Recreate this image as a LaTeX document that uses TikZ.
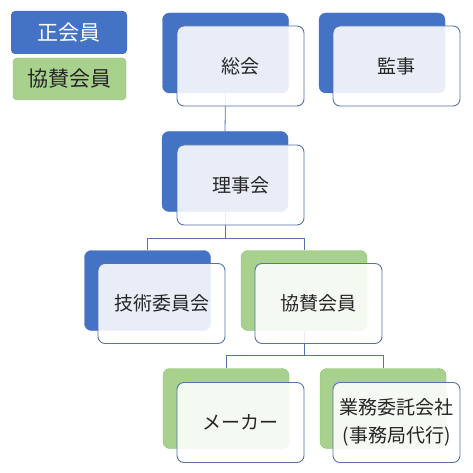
\documentclass[tikz,border=0pt]{standalone}
\usepackage{fontspec}
\setmainfont{Noto Sans CJK JP}
\usepackage{tikz}
\usetikzlibrary{backgrounds}
\definecolor{kaiblue}{HTML}{4472C4}
\definecolor{kaigreen}{HTML}{A9D18E}
\definecolor{kaigreenline}{HTML}{8DBF6C}
\definecolor{edgeblue}{HTML}{5574AC}
\definecolor{inktext}{HTML}{262626}
\tikzset{
  backblue/.style={fill=kaiblue,draw=kaiblue,rounded corners=7pt,minimum width=126pt,minimum height=80pt,inner sep=0pt},
  backgreen/.style={fill=kaigreen,draw=kaigreenline,rounded corners=7pt,minimum width=126pt,minimum height=80pt,inner sep=0pt},
  frontcard/.style={fill=white,fill opacity=.88,text opacity=1,draw=edgeblue,line width=.9pt,rounded corners=7pt,
    minimum width=127pt,minimum height=80pt,inner sep=0pt,text=inktext,align=center,font=\fontsize{19}{28}\selectfont},
  link/.style={draw=edgeblue,line width=.8pt}
}

\begin{document}
\begin{tikzpicture}[x=1pt,y=-1pt]
  \useasboundingbox (0,0) rectangle (473,473);
  % legend
  \node[fill=kaiblue,rounded corners=4pt,minimum width=116pt,minimum height=43pt,text=white,
    font=\fontsize{21}{24}\selectfont] (lgsei) at (69,32.5) {正会員};
  \node[fill=kaigreen,draw=kaigreenline,rounded corners=4pt,minimum width=113pt,minimum height=42pt,text=inktext,
    font=\fontsize{21}{24}\selectfont] (lgkyo) at (69.5,79) {協賛会員};
  % back cards
  \node[backblue] (sokaiB) at (225.5,53) {};
  \node[backblue] (kanjiB) at (382,53) {};
  \node[backblue] (rijiB) at (225,171.5) {};
  \node[backblue] (gijutsuB) at (147.5,290.5) {};
  \node[backgreen] (kyosanB) at (304,290.5) {};
  \node[backgreen] (makerB) at (226,408.5) {};
  \node[backgreen] (gyomuB) at (383,408.5) {};
  % front cards
  \node[frontcard] (sokai) at (240.5,66) {総会};
  \node[frontcard] (kanji) at (396.5,66) {監事};
  \node[frontcard] (riji) at (240.5,185) {理事会};
  \node[frontcard] (gijutsu) at (161.5,303.5) {技術委員会};
  \node[frontcard] (kyosan) at (318.5,303.5) {協賛会員};
  \node[frontcard] (maker) at (240.5,422.5) {メーカー};
  \node[frontcard] (gyomu) at (396.5,422.5) {業務委託会社\\(事務局代行)};
  % connectors
  \begin{scope}[on background layer]
    \fill[white] (0,0) rectangle (473,473);
    \draw[link] (sokaiB.south) -- (rijiB.north);
    \draw[link] (rijiB.south) -- ++(0,27) -| (gijutsuB.north);
    \draw[link] (rijiB.south) ++(0,27) -| (kyosanB.north);
    \draw[link] (kyosanB.south) -- ++(0,25) -| (makerB.north);
    \draw[link] (kyosanB.south) ++(0,25) -| (gyomuB.north);
  \end{scope}
\end{tikzpicture}
\end{document}
